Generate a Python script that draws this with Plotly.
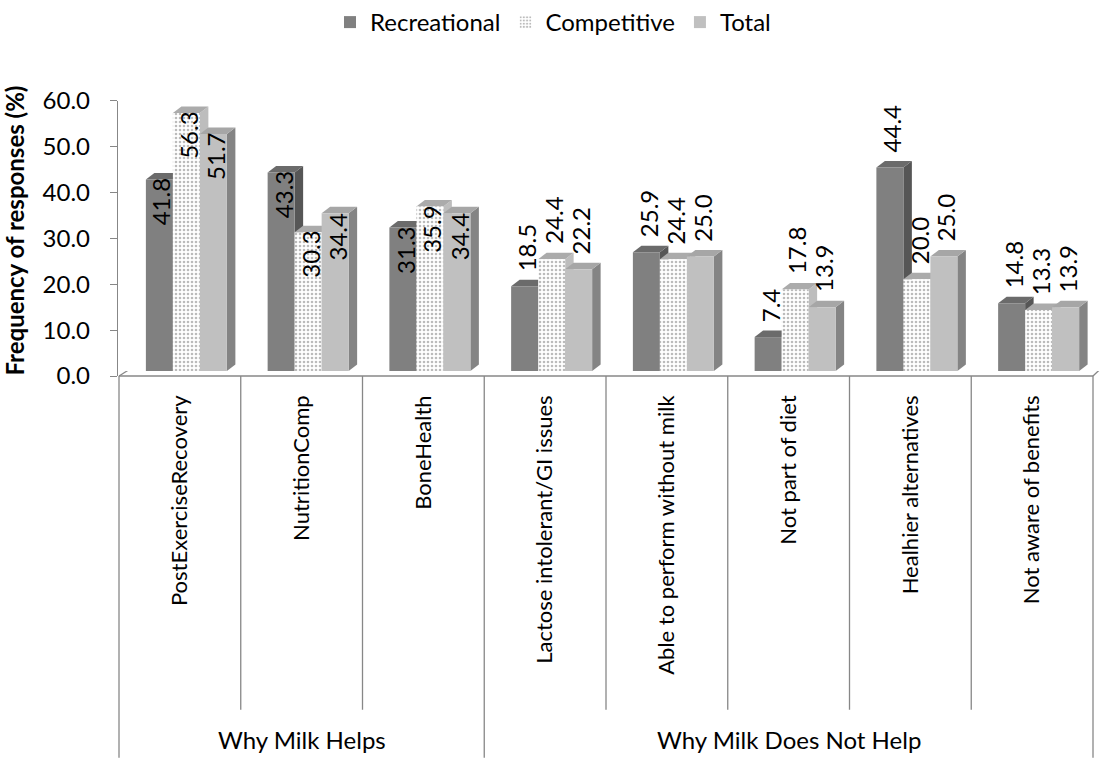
import plotly.graph_objects as go

# ---------------- data ----------------
categories = [
    "PostExerciseRecovery", "NutritionComp", "BoneHealth",
    "Lactose intolerant/GI issues", "Able to perform without milk",
    "Not part of diet", "Healhier alternatives", "Not aware of benefits",
]
groups = ["Why Milk Helps", "Why Milk Does Not Help"]
group_sizes = [3, 5]
series_names = ["Recreational", "Competitive", "Total"]
recreational = [41.8, 43.3, 31.3, 18.5, 25.9, 7.4, 44.4, 14.8]
competitive = [56.3, 30.3, 35.9, 24.4, 24.4, 17.8, 20.0, 13.3]
total = [51.7, 34.4, 34.4, 22.2, 25.0, 13.9, 25.0, 13.9]
y_tick_values = [0, 10, 20, 30, 40, 50, 60]
y_title = "Frequency of responses (%)"

# ---------------- layout constants ----------------
W, H = 1108, 759
L, T = 118, 95
PLOT_BOTTOM = 376
PLOT_W = W - L
PLOT_H = PLOT_BOTTOM - T
B = H - PLOT_BOTTOM
PX_CAT = 121.75           # px per category slot
DIV0_PX = 119             # pixel of first divider
x_range = [-0.5 - (DIV0_PX - L) / PX_CAT, -0.5 + (W - DIV0_PX) / PX_CAT]
AX_H = 276                # px for 0..60 on the value axis
YPX = AX_H / 60.0
DEPTH_PX = PLOT_H - AX_H  # bars stand slightly behind the front edge
y_dom = [0, AX_H / PLOT_H]
y2_dom = [DEPTH_PX / PLOT_H, 1]

BW = 27 / PX_CAT
FIRST = -34 / PX_CAT
DX = 8.5 / PX_CAT
DY = 6.5 / YPX

FONT = "Lato"
GRID = "#878787"


def py(p):  # pixel row -> paper y
    return (PLOT_BOTTOM - p) / PLOT_H


def pxx(p):  # pixel col -> paper x
    return (p - L) / PLOT_W


styles = [
    dict(front="#808080", top="#6b6b6b", side="#565656", pattern=None),
    dict(front="#ffffff", top="#ababab", side="#bdbdbd",
         pattern=dict(shape=".", fgcolor="#777777", bgcolor="#ffffff",
                      size=4, solidity=0.33)),
    dict(front="#c0c0c0", top="#a6a6a6", side="#848484", pattern=None),
]
series_values = [recreational, competitive, total]

fig = go.Figure()
shapes = []
annotations = []

xs = list(range(len(categories)))
inside_flags = []
for g, n in enumerate(group_sizes):
    inside_flags += [g == 0] * n

# invisible helper trace so the value axis (front wall) is drawn
fig.add_trace(go.Scatter(x=[xs[0]], y=[0], mode="markers",
                         marker=dict(opacity=0), showlegend=False,
                         hoverinfo="skip", xaxis="x", yaxis="y"))

for j, (name, vals, st) in enumerate(zip(series_names, series_values, styles)):
    off = FIRST + j * BW
    marker = dict(color=st["front"], line=dict(width=0))
    if st["pattern"]:
        marker["pattern"] = st["pattern"]
    fig.add_trace(go.Bar(
        x=xs, y=vals, name=name, offset=off, width=BW,
        marker=marker, xaxis="x", yaxis="y2", hoverinfo="skip",
    ))
    for i, v in enumerate(vals):
        x0 = i + off
        x1 = x0 + BW
        # side face
        shapes.append(dict(
            type="path", xref="x", yref="y2", layer="below",
            path=f"M{x1},0 L{x1+DX},{DY} L{x1+DX},{v+DY} L{x1},{v} Z",
            fillcolor=st["side"], line=dict(width=0)))
        # top face
        shapes.append(dict(
            type="path", xref="x", yref="y2", layer="below",
            path=f"M{x0},{v} L{x0+DX},{v+DY} L{x1+DX},{v+DY} L{x1},{v} Z",
            fillcolor=st["top"], line=dict(width=0)))
        # value label
        inside = inside_flags[i]
        annotations.append(dict(
            x=(x0 + x1) / 2, y=v, xref="x", yref="y2",
            text=f"{v:.1f}", showarrow=False, textangle=-90,
            xanchor="center", yanchor="top" if inside else "bottom",
            xshift=2, yshift=3 if inside else 13,
            font=dict(family=FONT, size=24, color="#000000")))

# floor (3D base)
FLOOR_DX_L = 27 / PX_CAT
FLOOR_DX_R = 18 / PX_CAT
FLOOR_DY = py(PLOT_BOTTOM - 17)
shapes += [
    dict(type="line", xref="x", yref="paper", layer="below",
         x0=-0.5, x1=len(categories) - 0.5, y0=0, y1=0,
         line=dict(color=GRID, width=1.3)),
    dict(type="line", xref="x", yref="paper", layer="below",
         x0=-0.5, x1=-0.5 + FLOOR_DX_L, y0=0, y1=FLOOR_DY,
         line=dict(color=GRID, width=1.3)),
    dict(type="line", xref="x", yref="paper", layer="below",
         x0=-0.5 + FLOOR_DX_L, x1=len(categories) - 0.5 + FLOOR_DX_L,
         y0=FLOOR_DY, y1=FLOOR_DY, line=dict(color=GRID, width=1.3)),
    dict(type="line", xref="x", yref="paper", layer="below",
         x0=len(categories) - 0.5, x1=len(categories) - 0.5 + FLOOR_DX_R,
         y0=0, y1=FLOOR_DY, line=dict(color=GRID, width=1.3)),
]

# category dividers
boundaries = [0]
for n in group_sizes:
    boundaries.append(boundaries[-1] + n)
for k in range(len(categories) + 1):
    outer = k in boundaries
    shapes.append(dict(
        type="line", xref="x", yref="paper",
        x0=k - 0.5, x1=k - 0.5, y0=0, y1=py(H) if outer else py(711),
        line=dict(color=GRID, width=1.3)))

# group labels
for g, name in enumerate(groups):
    a, b = boundaries[g], boundaries[g + 1]
    annotations.append(dict(
        x=(a + b - 1) / 2, y=py(741), xref="x", yref="paper",
        text=name, showarrow=False, xanchor="center", yanchor="middle",
        font=dict(family=FONT, size=24, color="#000000")))

# y-axis title
annotations.append(dict(
    x=pxx(15), y=py(230), xref="paper", yref="paper", text=f"<b>{y_title}</b>",
    showarrow=False, textangle=-90, xanchor="center", yanchor="middle",
    font=dict(family=FONT, size=24, color="#000000")))

fig.update_layout(
    width=W, height=H,
    margin=dict(l=L, r=0, t=T, b=B, pad=0),
    paper_bgcolor="white", plot_bgcolor="white",
    barmode="overlay",
    showlegend=True,
    legend=dict(orientation="h", x=pxx(330), y=py(-1), xanchor="left",
                yanchor="top", font=dict(family=FONT, size=24, color="#000000"),
                traceorder="normal", bgcolor="rgba(0,0,0,0)"),
    xaxis=dict(type="linear", range=x_range, anchor="y",
               tickmode="array", tickvals=xs, ticktext=categories,
               tickangle=-90, ticks="", showgrid=False, zeroline=False,
               showline=False, ticklabelstandoff=14,
               tickfont=dict(family=FONT, size=22, color="#000000")),
    yaxis=dict(domain=y_dom, range=[0, 60], anchor="x",
               tickmode="array", tickvals=y_tick_values,
               ticktext=[f"{t:.1f}" for t in y_tick_values],
               ticks="outside", ticklen=7, tickcolor=GRID, tickwidth=1.3,
               showline=True, linecolor=GRID, linewidth=1.3,
               showgrid=False, zeroline=False, ticklabelstandoff=15,
               tickfont=dict(family=FONT, size=24, color="#000000")),
    yaxis2=dict(domain=y2_dom, range=[0, 60], anchor="x", visible=False,
                showgrid=False, zeroline=False),
    shapes=shapes,
    annotations=annotations,
    font=dict(family=FONT),
)

fig.write_html("out.html")
